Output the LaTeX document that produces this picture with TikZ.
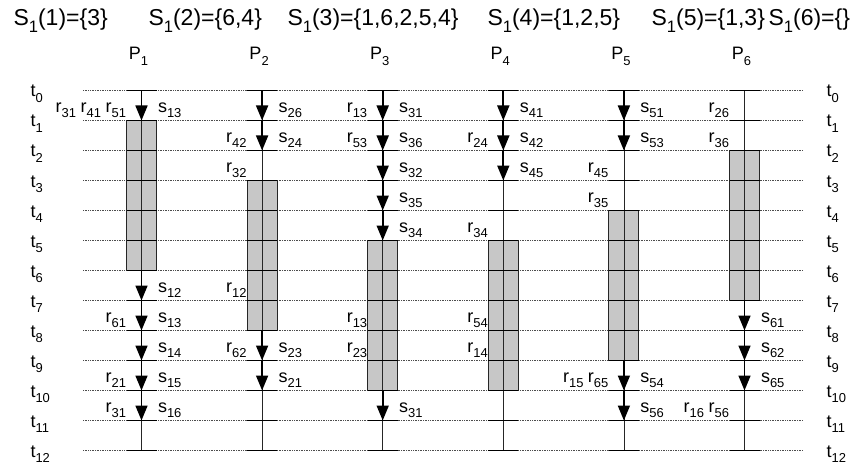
\documentclass[tikz,border=0pt]{standalone}
\usepackage{fontspec}
\setmainfont{Liberation Sans}
\usetikzlibrary{arrows.meta, positioning, calc}

\newcommand{\ix}[1]{\raisebox{-0.28em}{\scalebox{0.72}{#1}}}
\newcommand{\gap}{\hspace{4.5pt}}

\tikzset{
    timeline/.style={black!70, line width=0.7pt, dash pattern=on 0.8pt off 0.9pt},
    proc/.style={black!85, line width=0.8pt},
    tickmark/.style={black, line width=1.4pt},
    busy/.style={draw=black!85, fill=black!22, line width=1pt},
    msg/.style={black, line width=1.7pt, -{Triangle[width=12pt, length=15pt]}},
    sendlbl/.style={anchor=base west},
    recvlbl/.style={anchor=base east}
}

\begin{document}
\begin{tikzpicture}[x=1pt, y=-1pt, font=\fontsize{18}{21}\selectfont]
    \useasboundingbox (0,0) rectangle (859,468);

    % header
    \begin{scope}[every node/.style={anchor=base west, font=\fontsize{23}{26}\selectfont}]
        \node (h1) at (10,26) {S\ix{1}(1)=\{3\}};
        \node (h2) at (145,26) {S\ix{1}(2)=\{6,4\}};
        \node (h3) at (284,26) {S\ix{1}(3)=\{1,6,2,5,4\}};
        \node (h4) at (484,26) {S\ix{1}(4)=\{1,2,5\}};
        \node (h5) at (648,26) {S\ix{1}(5)=\{1,3\}};
        \node (h6) at (765,26) {S\ix{1}(6)=\{\}};
    \end{scope}

    % grid points
    \foreach \i in {1,...,6}
        \foreach \k in {0,...,12}
            \coordinate (p\i-\k) at ({141.5+120.6*(\i-1)}, {90.5+30*\k});

    % time lines
    \foreach \k in {0,...,12} {
        \coordinate (a\k) at (83, {90.5+30*\k});
        \coordinate (b\k) at (803, {90.5+30*\k});
        \draw[timeline] (a\k) -- (b\k);
        \node[anchor=base west] (tl\k) at ($(a\k)+(-56,6.5)$) {t\ix{\k}};
        \node[anchor=base west] (tr\k) at ($(b\k)+(20,6.5)$) {t\ix{\k}};
    }

    % busy periods
    \foreach \i/\a/\b in {1/1/6, 2/3/8, 3/5/10, 4/5/10, 5/4/9, 6/2/7}
        \draw[busy] ($(p\i-\a)+(-15,0)$) rectangle ($(p\i-\b)+(15,0)$);

    % processes
    \foreach \i in {1,...,6} {
        \node[anchor=base] (P\i) at ($(p\i-0)+(-3,-30.5)$) {P\ix{\i}};
        \draw[proc] (p\i-0) -- (p\i-12);
        \foreach \k in {0,...,12}
            \draw[tickmark] ($(p\i-\k)+(-15,0)$) -- ($(p\i-\k)+(15,0)$);
    }

    % messages sent
    \foreach \i/\k/\s in {1/0/13, 1/6/12, 1/7/13, 1/8/14, 1/9/15, 1/10/16,
                          2/0/26, 2/1/24, 2/8/23, 2/9/21,
                          3/0/31, 3/1/36, 3/2/32, 3/3/35, 3/4/34, 3/10/31,
                          4/0/41, 4/1/42, 4/2/45,
                          5/0/51, 5/1/53, 5/9/54, 5/10/56,
                          6/7/61, 6/8/62, 6/9/65} {
        \pgfmathtruncatemacro{\kk}{\k+1}
        \draw[msg] (p\i-\k) -- (p\i-\kk);
        \node[sendlbl] (s\i-\k) at ($(p\i-\k)+(13,22)$) {s\ix{\s}};
    }

    % messages received
    \foreach \i/\k/\r in {1/0/{r\ix{31}\gap r\ix{41}\gap r\ix{51}}, 1/7/{r\ix{61}}, 1/9/{r\ix{21}}, 1/10/{r\ix{31}},
                          2/1/{r\ix{42}}, 2/2/{r\ix{32}}, 2/6/{r\ix{12}}, 2/8/{r\ix{62}},
                          3/0/{r\ix{13}}, 3/1/{r\ix{53}}, 3/7/{r\ix{13}}, 3/8/{r\ix{23}},
                          4/1/{r\ix{24}}, 4/4/{r\ix{34}}, 4/7/{r\ix{54}}, 4/8/{r\ix{14}},
                          5/2/{r\ix{45}}, 5/3/{r\ix{35}}, 5/9/{r\ix{15}\gap r\ix{65}},
                          6/0/{r\ix{26}}, 6/1/{r\ix{36}}, 6/10/{r\ix{16}\gap r\ix{56}}}
        \node[recvlbl] (r\i-\k) at ($(p\i-\k)+(-12,22)$) {\r};
\end{tikzpicture}
\end{document}
